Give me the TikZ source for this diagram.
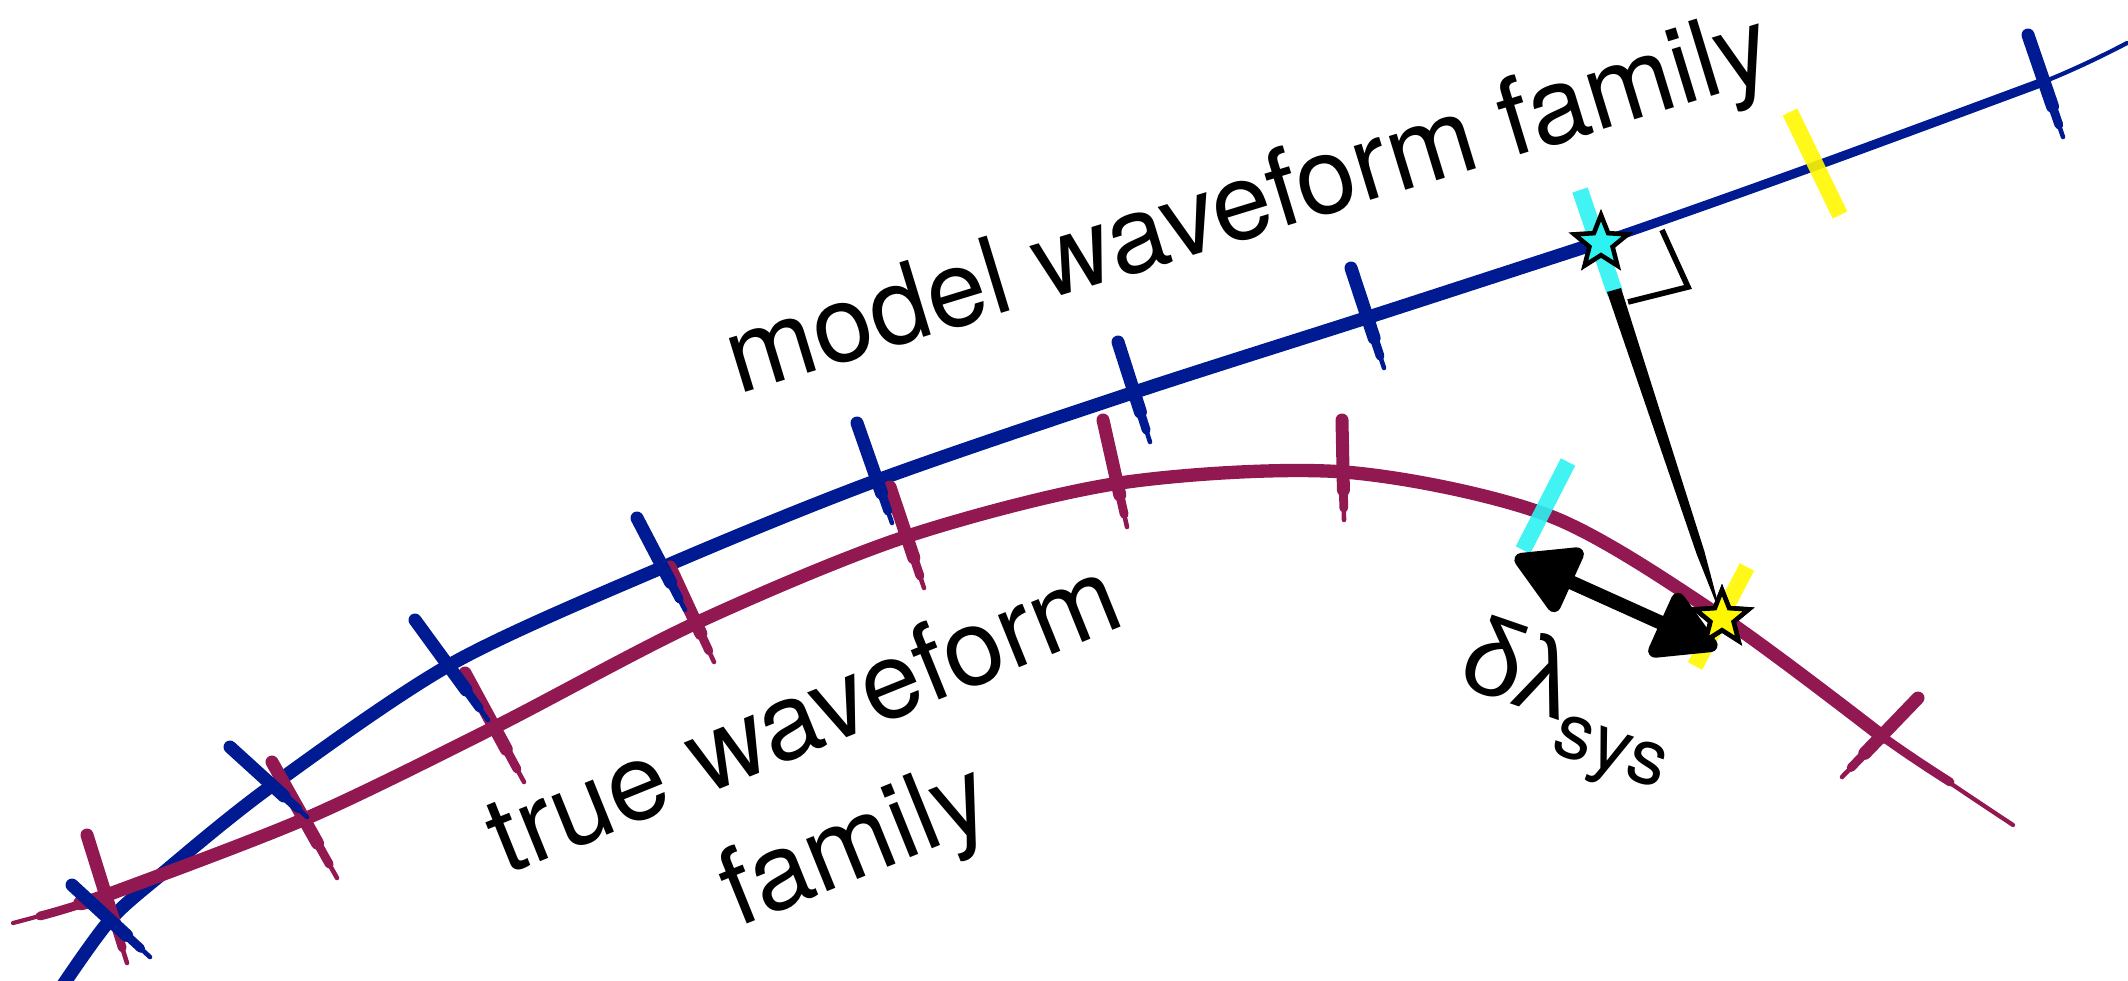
\documentclass[tikz,border=0pt]{standalone}
\usepackage{fontspec}
\setmainfont{TeX Gyre Heros}
\newfontfamily\grkfont{Liberation Sans}
\definecolor{WFblue}{HTML}{001B91}
\definecolor{WFred}{HTML}{921852}
\definecolor{WFcyan}{HTML}{2CF2F2}
\definecolor{WFyellow}{HTML}{FFF700}
\usetikzlibrary{arrows.meta, shapes.geometric, calc}

\tikzset{
  brush/.style={line width=3.8pt, line cap=round, line join=round},
  tickmark/.style={line width=3.7pt, line cap=round},
  crayon/.style={line width=4.6pt, line cap=butt, opacity=0.9},
  markstar/.style={star, star points=5, star point ratio=2.3, minimum size=5.6mm,
     inner sep=0pt, draw=black, line width=1.3pt},
  lbl/.style={font=\fontsize{30.5}{38.5}\selectfont, inner sep=0pt}
}

\begin{document}
\begin{tikzpicture}[x=0.1mm, y=-0.1mm]
  \useasboundingbox (0,0) rectangle (2128,980);
  % Model waveform family (blue), thinning out to the right
  \draw[WFblue, line width=1.2pt, line cap=round] plot[smooth] coordinates {(63,985) (110,920) (163,873) (270,787) (453,663) (668,565) (878,480) (1135,392) (1369,317) (1600,242) (1818,165) (2043,82) (2127,43)};
  \draw[WFblue, line width=2.6pt, line cap=round] plot[smooth] coordinates {(63,985) (110,920) (163,873) (270,787) (453,663) (668,565) (878,480) (1135,392) (1369,317) (1600,242) (1818,165) (2043,82)};
  \draw[WFblue, brush] plot[smooth] coordinates {(63,985) (110,920) (163,873) (270,787) (453,663) (668,565) (878,480) (1135,392) (1369,317) (1600,242)};
  % True waveform family (red), pointed at both ends
  \draw[WFred, line width=1.2pt, line cap=round] plot[smooth] coordinates {(13,923) (107,895) (307,818) (495,727) (696,623) (905,537) (1120,483) (1344,472) (1550,516) (1723,618) (1883,737) (2013,825)};
  \draw[WFred, line width=2.5pt, line cap=round] plot[smooth] coordinates {(40,916) (107,895) (307,818) (495,727) (696,623) (905,537) (1120,483) (1344,472) (1550,516) (1723,618) (1883,737) (1950,782)};
  \draw[WFred, brush] plot[smooth] coordinates {(80,903) (107,895) (307,818) (495,727) (696,623) (905,537) (1120,483) (1344,472) (1550,516) (1723,618) (1883,737)};
  % Ticks on the true family
  \foreach \xa/\ya/\xb/\yb in {87/835/127/963, 272/762/337/878, 465/673/524/782, 670/567/714/662, 890/487/924/588, 1103/420/1127/527, 1342/420/1344/520, 1918/698/1842/777} {
    \draw[WFred, tickmark, line width=1.3pt] (\xa,\ya) -- (\xb,\yb);
    \draw[WFred, tickmark, line width=2.5pt] (\xa,\ya) -- ($(\xa,\ya)!0.88!(\xb,\yb)$);
    \draw[WFred, tickmark] (\xa,\ya) -- ($(\xa,\ya)!0.7!(\xb,\yb)$);
  }
  % Ticks on the model family
  \foreach \xa/\ya/\xb/\yb in {72/885/150/957, 230/747/307/817, 415/620/488/720, 637/518/685/610, 857/423/892/523, 1118/342/1150/442, 1351/268/1384/368, 2028/35/2063/137} {
    \draw[WFblue, tickmark, line width=1.3pt] (\xa,\ya) -- (\xb,\yb);
    \draw[WFblue, tickmark, line width=2.5pt] (\xa,\ya) -- ($(\xa,\ya)!0.88!(\xb,\yb)$);
    \draw[WFblue, tickmark] (\xa,\ya) -- ($(\xa,\ya)!0.7!(\xb,\yb)$);
  }
  % Highlighted points
  \draw[WFcyan, crayon] (1580,190) -- (1615,293);
  \draw[WFcyan, crayon] (1568,462) -- (1523,550);
  \draw[WFyellow, crayon] (1790,112) -- (1840,215);
  \draw[WFyellow, crayon] (1747,567) -- (1695,666);
  % Right angle mark
  \coordinate (ra1) at (1662,230);
  \coordinate (ra2) at (1688,287);
  \coordinate (ra3) at (1628,302);
  \draw[line width=1.6pt] (ra1) -- (ra2) -- (ra3);
  % Stars
  \node[markstar, fill=WFyellow] (ystar) at (1722,618) {};
  % Projection from model point onto true family
  \coordinate (foot) at (1614,290);
  \fill (foot) ++(-7,2) -- ++(14,-4) -- ($(foot)!0.8!(ystar.center)+(4,-1)$) -- (ystar.center)
     -- ($(foot)!0.8!(ystar.center)+(-4,1)$) -- cycle;
  % Systematic offset arrow
  \coordinate (dlL) at (1515,557);
  \coordinate (dlR) at (1717,648);
  \draw[{Triangle[round,length=7mm,width=7.6mm]}-{Triangle[round,length=7mm,width=7.6mm]}, line width=4pt] (dlL) -- (dlR);
  \node[markstar, fill=WFcyan] (cstar) at (1601,243) {};
  \node[markstar, fill=WFyellow] at (ystar) {};
  % Labels
  \node[lbl, rotate=17] (modeltxt) at (1250,209) {model waveform family};
  \node[lbl, rotate=22, align=center] (truetxt) at (832,787) {true waveform\\family};
  \node[lbl, rotate=-19] (dlbl) at (1567,708) {{\grkfont δλ}\raisebox{-0.3em}{\fontsize{22}{22}\selectfont sys}};
\end{tikzpicture}
\end{document}
